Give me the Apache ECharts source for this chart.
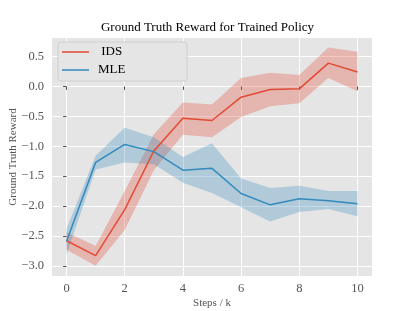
<!DOCTYPE html>
<html>
<head>
<meta charset="utf-8">
<script src="https://cdn.jsdelivr.net/npm/echarts@6/dist/echarts.min.js"></script>
<style>html,body{margin:0;padding:0;background:#fff}#c{width:415px;height:311px}</style>
</head>
<body>
<div id="c"></div>
<script>
const steps = [0, 1, 2, 3, 4, 5, 6, 7, 8, 9, 10];
const idsMean  = [-2.58, -2.83, -2.06, -1.08, -0.53, -0.57, -0.18, -0.05, -0.04, 0.39, 0.24];
const idsUpper = [-2.44, -2.67, -1.75, -0.80, -0.27, -0.30, 0.14, 0.23, 0.19, 0.65, 0.58];
const idsLower = [-2.73, -3.00, -2.40, -1.40, -0.81, -0.85, -0.51, -0.33, -0.28, 0.14, -0.08];
const mleMean  = [-2.59, -1.27, -0.97, -1.09, -1.40, -1.37, -1.79, -1.98, -1.88, -1.91, -1.96];
const mleUpper = [-2.38, -1.16, -0.69, -0.85, -1.18, -0.95, -1.54, -1.70, -1.66, -1.75, -1.75];
const mleLower = [-2.81, -1.39, -1.27, -1.30, -1.61, -1.78, -2.02, -2.26, -2.10, -2.05, -2.17];
const xTicks = [0, 2, 4, 6, 8, 10];
const yTicks = [-3.0, -2.5, -2.0, -1.5, -1.0, -0.5, 0.0, 0.5];

const FONT = '"Liberation Serif", "DejaVu Serif", serif';
const RED = '#E24A33', BLUE = '#348ABD';
const pairs = (ys) => steps.map((x, i) => [x, ys[i]]);

function band(lo, hi, color) {
  return {
    type: 'custom', silent: true, z: 2, clip: true,
    data: [[steps[0], lo[0]]],
    encode: { x: 0, y: 1 },
    renderItem: (params, api) => {
      const top = steps.map((x, i) => api.coord([x, hi[i]]));
      const bot = steps.map((x, i) => api.coord([x, lo[i]])).reverse();
      return { type: 'polygon', shape: { points: top.concat(bot) },
               style: { fill: color, opacity: 0.3 } };
    }
  };
}

const chart = echarts.init(document.getElementById('c'), null, { renderer: 'canvas' });
chart.setOption({
  animation: false,
  backgroundColor: '#ffffff',
  title: {
    text: 'Ground Truth Reward for Trained Policy',
    left: 'center', top: 21, padding: 0,
    textStyle: { fontFamily: FONT, fontSize: 13, fontWeight: 'normal', color: '#000' }
  },
  legend: {
    data: [' IDS', 'MLE'],
    orient: 'vertical', left: 58, top: 42,
    padding: [3, 4, 4, 4], itemGap: 4,
    icon: 'rect', itemWidth: 27, itemHeight: 1.5,
    backgroundColor: '#e5e5e5', borderColor: '#cfcfcf', borderWidth: 1, borderRadius: 3,
    textStyle: { fontFamily: FONT, fontSize: 13, color: '#000', width: 85, padding: [0, 0, 0, 4], lineHeight: 14 }
  },
  grid: { left: 52, right: 43, top: 38, bottom: 35, show: true, backgroundColor: '#E5E5E5', borderWidth: 0,
          containLabel: false, outerBoundsMode: 'none' },
  xAxis: {
    type: 'value', min: -0.5, max: 10.5,
    name: 'Steps / k', nameLocation: 'middle', nameGap: 22, nameMoveOverlap: false,
    nameTextStyle: { fontFamily: FONT, fontSize: 11, color: '#555' },
    axisLine: { show: false },
    axisTick: { show: true, length: 3.5, lineStyle: { color: '#555', width: 1 }, customValues: xTicks },
    axisLabel: { customValues: xTicks, margin: 6, fontFamily: FONT, fontSize: 12.5, color: '#555' },
    splitLine: { show: true, lineStyle: { color: '#ffffff', width: 1 } }
  },
  yAxis: {
    type: 'value', min: -3.17, max: 0.81,
    name: 'Ground Truth Reward', nameLocation: 'middle', nameGap: 33, nameMoveOverlap: false,
    nameTextStyle: { fontFamily: FONT, fontSize: 11, color: '#555' },
    axisLine: { show: false },
    axisTick: { show: true, length: 3.5, lineStyle: { color: '#555', width: 1 }, customValues: yTicks },
    axisLabel: { customValues: yTicks, margin: 8, fontFamily: FONT, fontSize: 12.5, color: '#555',
      formatter: (v) => v.toFixed(1).replace('-', '\u2212') },
    splitLine: { show: true, lineStyle: { color: '#ffffff', width: 1 } }
  },
  series: [
    band(idsLower, idsUpper, RED),
    { name: ' IDS', type: 'line', data: pairs(idsMean), symbol: 'none', color: RED,
      lineStyle: { color: RED, width: 1.5 }, z: 2 },
    band(mleLower, mleUpper, BLUE),
    { name: 'MLE', type: 'line', data: pairs(mleMean), symbol: 'none', color: BLUE,
      lineStyle: { color: BLUE, width: 1.5 }, z: 2 }
  ]
});
</script>
</body>
</html>
